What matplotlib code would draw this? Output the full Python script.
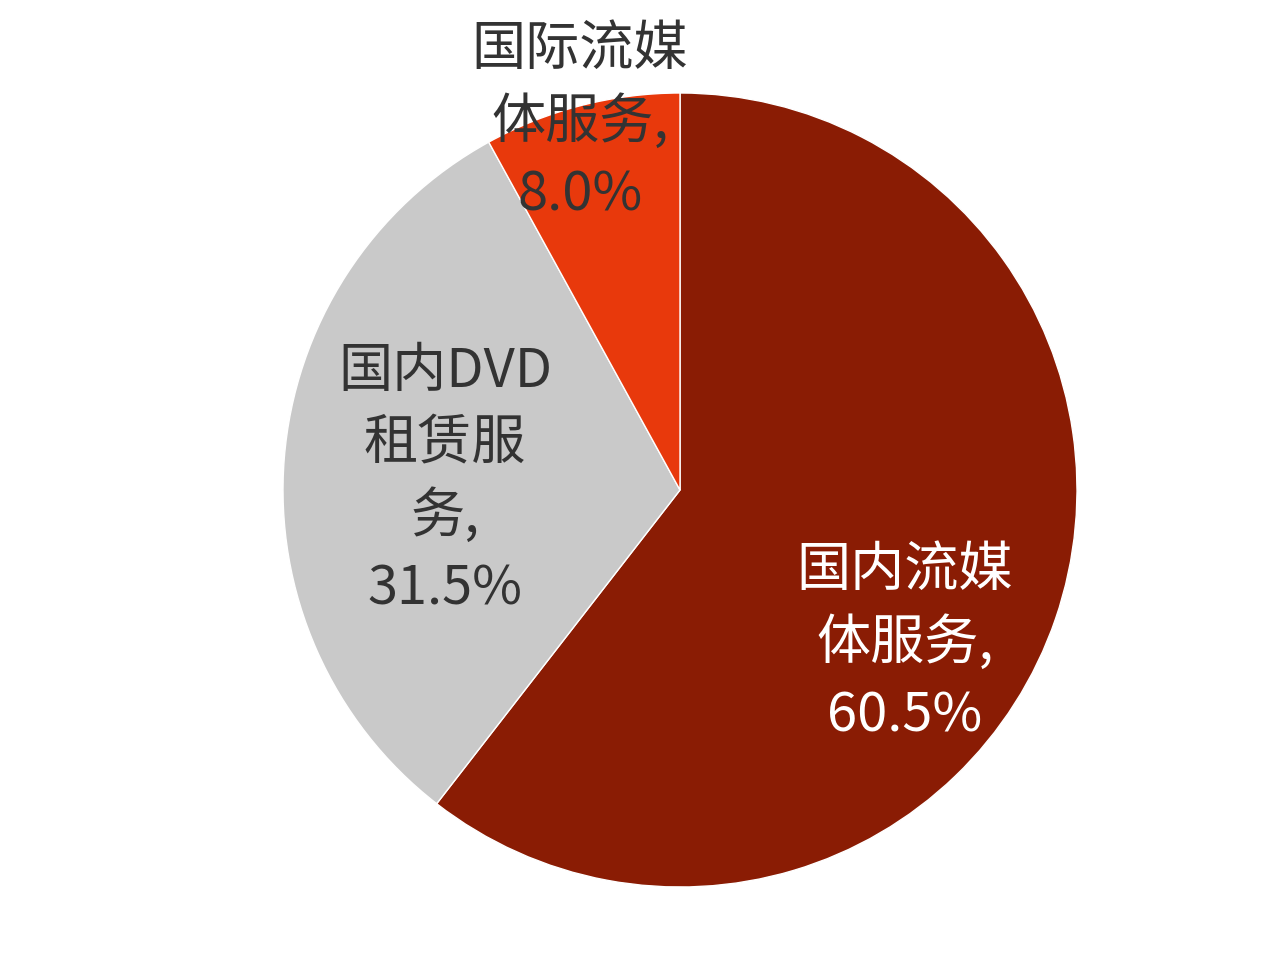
import matplotlib
matplotlib.use("Agg")
import matplotlib.pyplot as plt

plt.rcParams['font.family'] = ['Noto Sans CJK SC', 'DejaVu Sans']

categories = ['国内流媒体服务', '国内DVD租赁服务', '国际流媒体服务']
shares = [60.5, 31.5, 8.0]
labels = ['国内流媒\n体服务,\n60.5%', '国内DVD\n租赁服\n务,\n31.5%', '国际流媒\n体服务,\n8.0%']
colors = ['#8a1c04', '#c9c9c9', '#e8390c']


def main():
    fig = plt.figure(figsize=(12.8, 9.66), dpi=100)
    ax = fig.add_axes([0, 0, 1, 1])
    ax.pie(shares, colors=colors, startangle=90, counterclock=False,
           center=(680, 476), radius=397,
           wedgeprops=dict(edgecolor='white', linewidth=1))
    ax.set_xlim(0, 1280)
    ax.set_ylim(0, 966)
    ax.set_aspect('equal')
    ax.axis('off')

    # label spots (pixel coords from top-left)
    spots = [(905, 643), (445, 480), (580, 122)]
    tcolors = ['white', '#333333', '#333333']
    for lab, (x, y), c in zip(labels, spots, tcolors):
        ax.text(x, 966 - y, lab, ha='center', va='center', fontsize=39,
                color=c, linespacing=1.4)

    fig.savefig('out.png', dpi=100)


if __name__ == '__main__':
    main()
